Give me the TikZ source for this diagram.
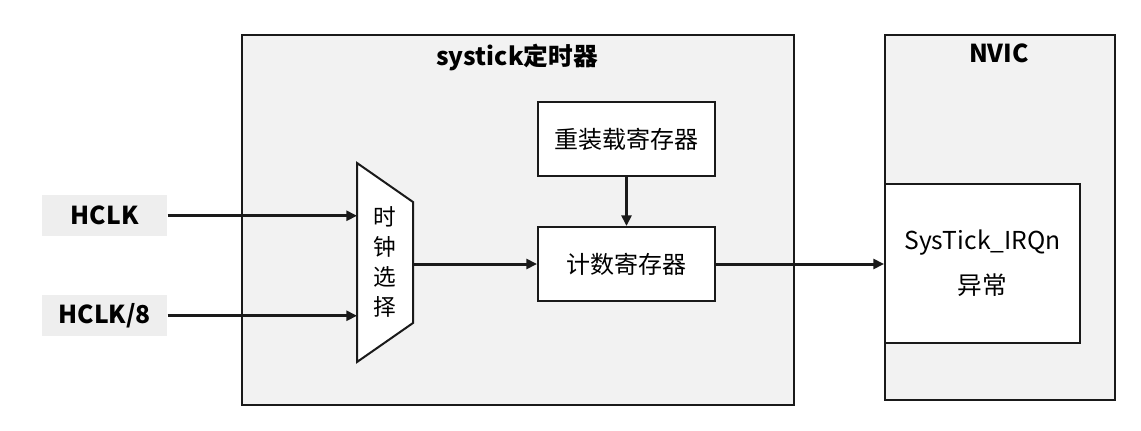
\documentclass[tikz,border=0pt]{standalone}
\usepackage{fontspec}
\setmainfont{Noto Sans CJK SC}
\usetikzlibrary{arrows.meta,calc}
\definecolor{panel}{HTML}{F2F2F2}
\definecolor{tag}{HTML}{EEEEEE}
\definecolor{ink}{HTML}{1A1A1A}
\begin{document}
\begin{tikzpicture}[x=0.75pt,y=-0.75pt,
  group/.style={draw=ink, line width=1.5pt, fill=panel, inner sep=0pt, anchor=north west},
  regbox/.style={draw=ink, line width=1.5pt, fill=white, inner sep=0pt, anchor=north west,
     minimum width=132.75pt, minimum height=55.5pt, font=\fontsize{18}{22}\selectfont},
  sigtag/.style={fill=tag, inner sep=0pt, anchor=north west, minimum width=93.75pt,
     minimum height=30.75pt, font=\bfseries\fontsize{18.5}{22}\selectfont},
  title/.style={font=\bfseries\fontsize{18.5}{20}\selectfont},
  arr/.style={draw=ink, line width=2.25pt, -{Triangle[length=8pt,width=7.5pt]}}]
\useasboundingbox (0,0) rectangle (1141,431);
% containers
\node[group, minimum width=414pt, minimum height=277.5pt] (sys) at (241,34) {};
\node[group, minimum width=172.5pt, minimum height=273.75pt] (nvic) at (884,34) {};
\node[title] (systitle) at (517,57) {systick定时器};
\node[title] (nvictitle) at (999,53) {NVIC};
% inner box of NVIC
\node[regbox, minimum width=146.25pt, minimum height=119.25pt, align=center,
      font=\fontsize{18.5}{34}\selectfont] (irq) at (884,183) {SysTick\_IRQn\\异常};
% registers
\node[regbox] (reload) at (537,101) {重装载寄存器};
\node[regbox] (count) at (537,226) {计数寄存器};
% clock mux
\coordinate (muxA) at (357,163);
\coordinate (muxB) at (413,202);
\coordinate (muxC) at (413,323);
\coordinate (muxD) at (357,362);
\draw[draw=ink, line width=1.5pt, fill=white, line join=miter] (muxA) -- (muxB) -- (muxC) -- (muxD) -- cycle;
\node[inner sep=0pt, align=center, font=\fontsize{17}{22.5}\selectfont] (mux) at (385,262) {时\\钟\\选\\择};
% signal tags
\node[sigtag] (hclk) at (42,195) {HCLK};
\node[sigtag] (hclkd) at (42,295) {HCLK/8};
% connectors
\draw[arr] (hclk.east) -- (hclk.east -| muxA);
\draw[arr] (hclkd.east) -- (hclkd.east -| muxA);
\draw[arr] (count.west -| muxB) -- (count.west);
\draw[arr] (reload.south) -- (count.north);
\draw[arr] (count.east) -- (count.east -| irq.west);
\end{tikzpicture}
\end{document}
